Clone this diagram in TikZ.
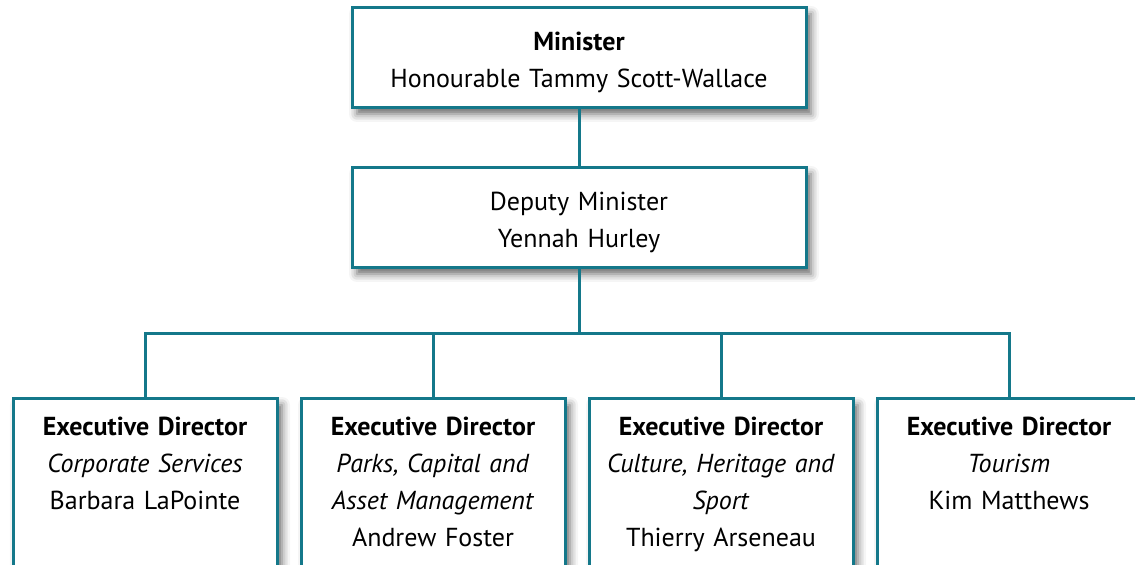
\documentclass[tikz,border=0pt]{standalone}
\usepackage{fontspec}
\setmainfont[WordSpace=0.8]{PT Sans}
\usetikzlibrary{positioning,shadows.blur}

\definecolor{teal}{RGB}{20,120,138}

\tikzset{
	post/.style={draw=teal, line width=1.5pt, fill=white, inner sep=0pt, outer sep=0pt,
		align=center, font=\fontsize{13}{18.5}\selectfont,
		blur shadow={shadow xshift=2.5pt, shadow yshift=-3pt, shadow blur radius=4pt, shadow opacity=60}},
	head/.style={post, text width=227pt, text height=21.25pt, text depth=28.75pt},
	unit/.style={post, text width=132pt, text height=18.5pt, text depth=100pt},
	link/.style={draw=teal, line width=1.5pt},
}

\begin{document}
\begin{tikzpicture}[x=0.5pt, y=-0.5pt, node distance=12pt]
		\clip (0,0) rectangle (1135,565);
		
		\node [head, anchor=north] (min) at (579,8) {\textbf{Minister}\\Honourable Tammy Scott-Wallace};
		\node [head, below=30pt of min] (dm) {Deputy Minister\\Yennah Hurley};
		
		\node [unit, anchor=north] (ed1) at (145,399) {\textbf{Executive Director}\\\textit{Corporate Services}\\Barbara LaPointe};
		\node [unit, right=of ed1] (ed2) {\textbf{Executive Director}\\\textit{Parks, Capital and}\\\textit{Asset Management}\\Andrew Foster};
		\node [unit, right=of ed2] (ed3) {\textbf{Executive Director}\\\textit{Culture, Heritage and}\\\textit{Sport}\\Thierry Arseneau};
		\node [unit, right=of ed3] (ed4) {\textbf{Executive Director}\\\textit{Tourism}\\Kim Matthews};
		
		\coordinate (fork) at (579,334);
		
		\draw [link] (min) -- (dm);
		\draw [link] (dm) -- (fork);
		\foreach \u in {ed1,ed2,ed3,ed4}
			\draw [link] (fork) -| (\u);
\end{tikzpicture}
\end{document}
